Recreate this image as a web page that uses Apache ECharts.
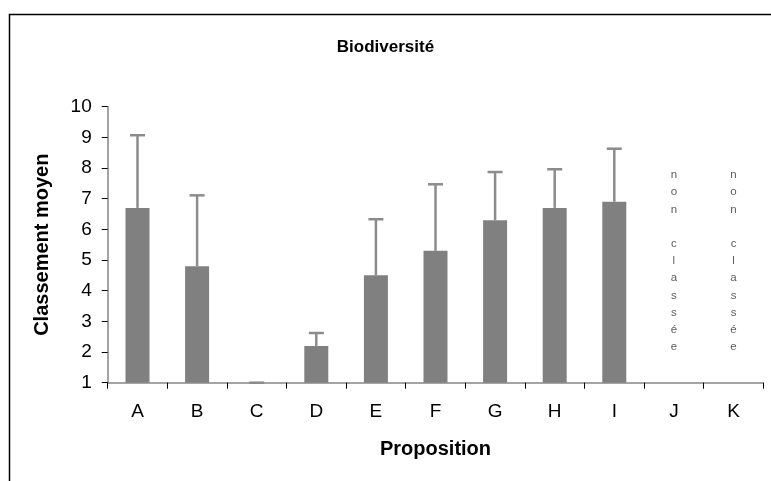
<!DOCTYPE html>
<html>
<head>
<meta charset="utf-8">
<script src="https://cdn.jsdelivr.net/npm/echarts@6/dist/echarts.min.js"></script>
<style>
html,body{margin:0;padding:0;background:#fff;}
#chart{width:771px;height:481px;}
</style>
</head>
<body>
<div id="chart"></div>
<script>
// Data
var categories = ['A','B','C','D','E','F','G','H','I','J','K'];
var means = [6.7, 4.8, 1.0, 2.2, 4.5, 5.3, 6.3, 6.7, 6.9, null, null];
var upperErr = [9.07, 7.11, 1.0, 2.62, 6.33, 7.47, 7.87, 7.96, 8.63, null, null];
var notRanked = ['J', 'K'];
var notRankedText = 'non classée';
var notRankedY = 4.97;
var yTicks = [1, 10, 1]; // min, max, interval

var chart = echarts.init(document.getElementById('chart'));

var errData = [];
for (var i = 0; i < categories.length; i++) {
  if (means[i] !== null) errData.push([i, means[i], upperErr[i]]);
}

var option = {
  backgroundColor: '#fff',
  animation: false,
  title: {
    text: 'Biodiversité',
    left: 'center', top: 34,
    textStyle: { fontFamily: 'Liberation Sans', fontSize: 17, fontWeight: 'bold', color: '#000' }
  },
  graphic: [{
    type: 'rect', left: 7, top: 12,
    shape: { width: 800, height: 520 },
    style: { fill: 'none', stroke: '#000', lineWidth: 1.5 },
    silent: true
  }],
  grid: { left: 107.7, right: 7.7, top: 106.7, bottom: 98.3 },
  xAxis: {
    type: 'category',
    data: categories,
    name: 'Proposition',
    nameLocation: 'middle',
    nameGap: 57,
    nameTextStyle: { fontFamily: 'Liberation Sans', fontSize: 20, fontWeight: 'bold', color: '#000' },
    axisLine: { lineStyle: { color: '#868686', width: 1.5 } },
    axisTick: { show: true, length: 6, lineStyle: { color: '#000', width: 1 } },
    axisLabel: { margin: 20, fontFamily: 'Liberation Sans', fontSize: 19, color: '#000' },
    splitLine: { show: false }
  },
  yAxis: {
    type: 'value',
    min: yTicks[0], max: yTicks[1], interval: yTicks[2],
    name: 'Classement moyen',
    nameLocation: 'middle',
    nameGap: 55,
    nameTextStyle: { fontFamily: 'Liberation Sans', fontSize: 20, fontWeight: 'bold', color: '#000' },
    axisLine: { show: true, lineStyle: { color: '#868686', width: 1.5 } },
    axisTick: { show: true, length: 6, lineStyle: { color: '#000', width: 1 } },
    axisLabel: { margin: 16, fontFamily: 'Liberation Sans', fontSize: 19, color: '#000' },
    splitLine: { show: false }
  },
  series: [
    {
      type: 'bar',
      data: means,
      barWidth: 24,
      itemStyle: { color: '#808080' },
      z: 2
    },
    {
      type: 'custom',
      data: errData,
      z: 3,
      renderItem: function (params, api) {
        var x = api.value(0);
        var lo = api.coord([x, api.value(1)]);
        var hi = api.coord([x, api.value(2)]);
        var half = 7.5;
        var st = { stroke: '#8c8c8c', lineWidth: 2.5 };
        return {
          type: 'group',
          children: [
            { type: 'line', shape: { x1: lo[0], y1: lo[1], x2: hi[0], y2: hi[1] }, style: st },
            { type: 'line', shape: { x1: hi[0] - half, y1: hi[1], x2: hi[0] + half, y2: hi[1] }, style: st }
          ]
        };
      }
    },
    {
      type: 'scatter',
      data: notRanked.map(function (c) { return [c, notRankedY]; }),
      symbolSize: 0,
      label: {
        show: true,
        position: 'inside',
        formatter: function () { return notRankedText.split('').join('\n'); },
        fontFamily: 'Liberation Sans',
        fontSize: 11.5,
        lineHeight: 17.2,
        color: '#333'
      }
    }
  ]
};
chart.setOption(option);
</script>
</body>
</html>
